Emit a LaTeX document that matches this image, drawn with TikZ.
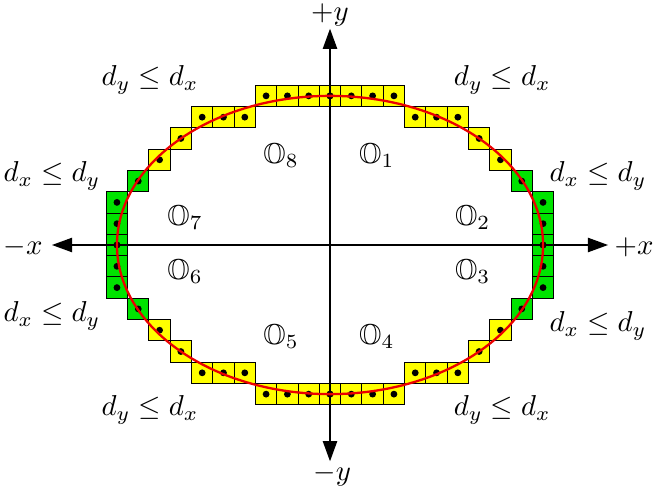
\documentclass[tikz,border=0pt]{standalone}
\usepackage{amssymb}
\usetikzlibrary{arrows.meta}
\definecolor{cellyellow}{RGB}{255,255,0}
\definecolor{cellgreen}{RGB}{0,228,0}
\definecolor{curvered}{RGB}{235,0,0}
\begin{document}
\begin{tikzpicture}[x=0.26cm,y=0.26cm,
  axis/.style={line width=0.4pt,{Triangle[length=7pt,width=5pt]}-{Triangle[length=7pt,width=5pt]}},
  ycell/.style={fill=cellyellow,draw=black,line width=0.35pt},
  gcell/.style={fill=cellgreen,draw=black,line width=0.35pt},
  pdot/.style={fill=black},
  curve/.style={draw=curvered,line width=0.8pt},
  lbl/.style={inner sep=1pt}]
\useasboundingbox (-15.49,-11.27) rectangle (15.16,11.50);
% cells
\foreach \sx in {1,-1}{
  \foreach \sy in {1,-1}{
    \foreach \x/\y in {0/7,1/7,2/7,3/7,4/6,5/6,6/6,7/5,8/4}{
      \draw[ycell] ({\sx*\x-0.5},{\sy*\y-0.5}) rectangle ++(1,1);
    }
    \foreach \x/\y in {9/3,10/2,10/1,10/0}{
      \draw[gcell] ({\sx*\x-0.5},{\sy*\y-0.5}) rectangle ++(1,1);
    }
  }
}
% axes
\coordinate (xl) at (-13.05,0);
\coordinate (xr) at (13.05,0);
\coordinate (yt) at (0,10.15);
\coordinate (yb) at (0,-10.15);
\draw[axis] (xl) -- (xr);
\draw[axis] (yb) -- (yt);
% dots
\foreach \sx in {1,-1}{
  \foreach \sy in {1,-1}{
    \foreach \x/\y in {0/7,1/7,2/7,3/7,4/6,5/6,6/6,7/5,8/4,9/3,10/2,10/1,10/0}{
      \fill[pdot] ({\sx*\x},{\sy*\y}) circle (0.16);
    }
  }
}
% ellipse
\coordinate (O) at (0,0);
\draw[curve] (O) ellipse [x radius=10, y radius=7];
% axis labels
\node[lbl] (lpy) at (0,10.8) {$+y$};
\node[lbl] (lmy) at (0.1,-10.8) {$-y$};
\node[lbl] (lmx) at (-14.4,-0.1) {$-x$};
\node[lbl] (lpx) at (14.27,-0.1) {$+x$};
% region labels
\node[lbl] (r1) at (-8.45,7.75) {$d_y \leq d_x$};
\node[lbl] (r2) at (8.08,7.75) {$d_y \leq d_x$};
\node[lbl] (r3) at (-8.45,-7.75) {$d_y \leq d_x$};
\node[lbl] (r4) at (8.08,-7.75) {$d_y \leq d_x$};
\node[lbl] (r5) at (-13.05,3.24) {$d_x \leq d_y$};
\node[lbl] (r6) at (12.58,3.24) {$d_x \leq d_y$};
\node[lbl] (r7) at (-13.05,-3.33) {$d_x \leq d_y$};
\node[lbl] (r8) at (12.58,-3.8) {$d_x \leq d_y$};
% octant labels
\node[lbl] (o1) at (2.2,4.2) {$\mathbb{O}_1$};
\node[lbl] (o2) at (6.7,1.27) {$\mathbb{O}_2$};
\node[lbl] (o3) at (6.7,-1.27) {$\mathbb{O}_3$};
\node[lbl] (o4) at (2.2,-4.3) {$\mathbb{O}_4$};
\node[lbl] (o5) at (-2.3,-4.3) {$\mathbb{O}_5$};
\node[lbl] (o6) at (-6.8,-1.27) {$\mathbb{O}_6$};
\node[lbl] (o7) at (-6.8,1.27) {$\mathbb{O}_7$};
\node[lbl] (o8) at (-2.3,4.2) {$\mathbb{O}_8$};
\end{tikzpicture}
\end{document}
